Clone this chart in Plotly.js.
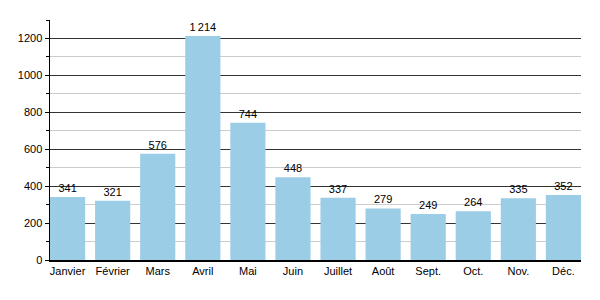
<!DOCTYPE html>
<html><head><meta charset="utf-8">
<script src="https://cdn.plot.ly/plotly-3.0.1.min.js"></script>
<style>html,body{margin:0;padding:0;background:#fff}#c{width:600px;height:300px}</style>
</head><body><div id="c"></div>
<script>
const months = ["Janvier","Février","Mars","Avril","Mai","Juin","Juillet","Août","Sept.","Oct.","Nov.","Déc."];
const values = [341,321,576,1214,744,448,337,279,249,264,335,352];
const labels = values.map(v => v >= 1000 ? String(v).replace(/\B(?=(\d{3})+(?!\d))/g, "\u2009") : String(v));
const gap = 0.22, half = (1 - gap) / 2;

Plotly.newPlot("c", [{
  type: "bar", x: months, y: values, text: labels, textposition: "outside",
  cliponaxis: false,
  textfont: {family: "Liberation Sans, Arial, sans-serif", size: 11, color: "#000"},
  marker: {color: "#9bcde6"}, hoverinfo: "none"
}], {
  width: 600, height: 300,
  margin: {l: 50, r: 19, t: 20, b: 40},
  paper_bgcolor: "#fff", plot_bgcolor: "#fff",
  bargap: gap,
  font: {family: "Liberation Sans, Arial, sans-serif", size: 11, color: "#000"},
  xaxis: {range: [-half, months.length - 1 + half], showline: true, linecolor: "#000", linewidth: 1.5, ticks: "", showgrid: false, fixedrange: true},
  yaxis: {range: [0, 1300], dtick: 200, tickformat: "d", showline: true, linecolor: "#000", linewidth: 1.5,
    ticks: "outside", ticklen: 4, tickcolor: "#000", gridcolor: "#333", gridwidth: 1, zeroline: false,
    minor: {dtick: 100, showgrid: true, gridcolor: "#ccc", ticks: "outside", ticklen: 3, tickcolor: "#000"}}
}, {staticPlot: true});
</script></body></html>
